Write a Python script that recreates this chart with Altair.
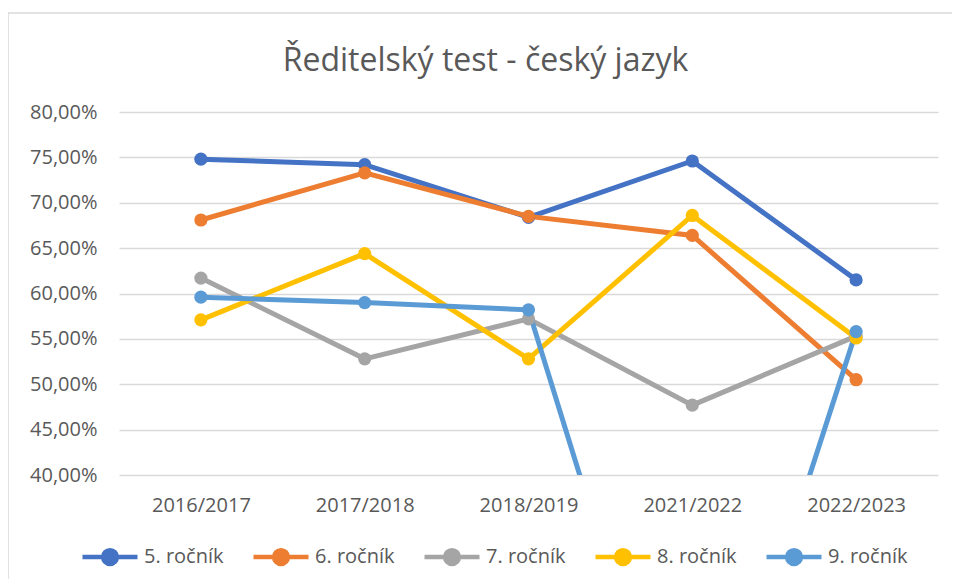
import altair as alt
import pandas as pd

years = ["2016/2017", "2017/2018", "2018/2019", "2021/2022", "2022/2023"]
series_names = ["5. ročník", "6. ročník", "7. ročník", "8. ročník", "9. ročník"]
r5 = [74.8, 74.2, 68.4, 74.6, 61.5]
r6 = [68.1, 73.3, 68.5, 66.4, 50.5]
r7 = [61.7, 52.8, 57.2, 47.7, 55.3]
r8 = [57.1, 64.4, 52.8, 68.6, 55.1]
r9 = [59.6, 59.0, 58.2, 0.0, 55.8]
colors = ["#4472C4", "#ED7D31", "#A5A5A5", "#FFC000", "#5B9BD5"]
y_ticks = [40, 45, 50, 55, 60, 65, 70, 75, 80]
title_text = "Ředitelský test - český jazyk"

rows = []
for name, vals in zip(series_names, [r5, r6, r7, r8, r9]):
    for yr, v in zip(years, vals):
        rows.append({"rok": yr, "trida": name, "hodnota": v})
df = pd.DataFrame(rows)

FONT = "Open Sans"
GREY = "#595959"

legend_path = ("M-1,0 L1,0 M-0.25,0 A0.25,0.25 0 1,0 0.25,0 "
               "A0.25,0.25 0 1,0 -0.25,0 Z")

x_enc = alt.X("rok:N", sort=years,
              scale=alt.Scale(type="point", padding=0.5),
              axis=alt.Axis(title=None, labelAngle=0, domain=False, ticks=False,
                            labelFont=FONT, labelFontSize=20, labelColor=GREY,
                            labelPadding=20, grid=False))
y_enc = alt.Y("hodnota:Q",
              scale=alt.Scale(domain=[40, 80], nice=False, zero=False),
              axis=alt.Axis(title=None, values=y_ticks, domain=False, ticks=False,
                            grid=True, gridColor="#D9D9D9", gridWidth=1.5,
                            labelExpr="replace(format(datum.value, '.2f'), '.', ',') + '%'",
                            labelFont=FONT, labelFontSize=20, labelColor=GREY,
                            labelPadding=22))
color_enc = alt.Color("trida:N", sort=series_names,
                      scale=alt.Scale(domain=series_names, range=colors),
                      legend=alt.Legend(title=None, orient="none", direction="horizontal",
                                        legendX=-39, legendY=415, padding=0,
                                        symbolType=legend_path, symbolSize=3025,
                                        symbolStrokeWidth=4.5, labelOffset=4,
                                        columnPadding=20, symbolOpacity=1,
                                        labelFont=FONT, labelFontSize=20,
                                        labelColor=GREY))

base = alt.Chart(df).encode(x=x_enc, y=y_enc, color=color_enc)
lines = base.mark_line(strokeWidth=5, clip=True)
points = base.mark_circle(size=175, opacity=1, clip=True)

border = alt.Chart(pd.DataFrame({"a": [0]})).mark_rect(
    color="white", fillOpacity=0, stroke="#D9D9D9", strokeWidth=1.5, clip=False
).encode(x=alt.value(-111), x2=alt.value(900), y=alt.value(-99), y2=alt.value(600))

chart = alt.layer(border, lines, points).properties(
    width=819, height=363,
    title=alt.TitleParams(title_text, font=FONT, fontSize=32, fontWeight="normal",
                          color=GREY, anchor="middle", frame="group",
                          baseline="alphabetic", offset=-91, dx=-43),
    autosize=alt.AutoSizeParams(type="none"),
    padding={"left": 111, "top": 104, "right": 14, "bottom": 104},
).configure(background="white").configure_view(stroke=None)

chart.save("out.html", embed_options={"renderer": "svg", "actions": False})
